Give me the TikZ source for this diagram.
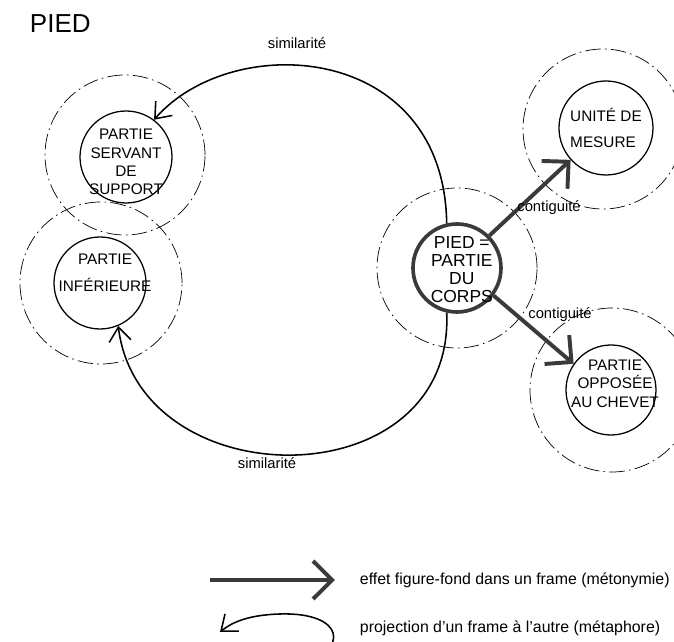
\documentclass[tikz,border=0pt]{standalone}
\usepackage{fontspec}
\setmainfont{Liberation Sans}
\usetikzlibrary{arrows.meta,positioning}
\definecolor{fonce}{HTML}{3A3A3A}
\tikzset{
  notion/.style={circle, draw, line width=0.9pt, inner sep=0pt, minimum size=2.3cm},
  noyau/.style={notion, draw=fonce, line width=2.6pt, minimum size=2.2cm},
  cadre/.style={circle, draw, line width=0.5pt, inner sep=0pt,
    dash pattern=on 11pt off 3pt on 1.2pt off 3pt},
  simil/.style={-{Straight Barb[length=3.5mm, width=5.5mm]}, line width=1.1pt},
  contig/.style={-{Straight Barb[length=4.8mm, width=9.5mm]}, line width=2.8pt, draw=fonce},
  ntxt/.style={font=\fontsize{10.9}{13}\selectfont, align=center, inner sep=0pt},
  lab/.style={font=\fontsize{10.5}{12}\selectfont},
  leg/.style={font=\fontsize{11.3}{13}\selectfont, anchor=west},
}

\begin{document}
\begin{tikzpicture}[x=1cm,y=1cm]
\useasboundingbox (0,0) rectangle (16.85,16.05);
\clip (0,0) rectangle (16.85,16.05);

\node[font=\fontsize{18.5}{22}\selectfont, anchor=west] (titre) at (0.625,15.45) {PIED};

% frames (dashed)
\node[cadre, minimum size=4.0cm]  (fpied)    at (11.425,9.35) {};
\node[cadre, minimum size=4.0cm]  (fservant) at (3.125,12.175) {};
\node[cadre, minimum size=4.05cm] (finf)     at (2.525,8.975) {};
\node[cadre, minimum size=4.0cm]  (funite)   at (15.075,12.825) {};
\node[cadre, minimum size=4.1cm]  (fopp)     at (15.3,6.3) {};

% concepts
\node[noyau, label={[ntxt, font=\fontsize{12.4}{12.8}\selectfont, xshift=1.2mm, yshift=-0.5mm]center:{PIED =\\PARTIE\\DU\\CORPS}}]
  (pied) at (11.425,9.35) {};
\node[notion, label={[ntxt, yshift=-1.25mm]center:{PARTIE\\SERVANT\\DE\\SUPPORT}}]
  (servant) at (3.15,12.125) {};
\node[notion, label={[ntxt, xshift=1.25mm, yshift=2.5mm]center:{PARTIE\\[6pt]INFÉRIEURE}}]
  (inf) at (2.5,8.975) {};
\node[notion, minimum size=2.35cm, label={[ntxt, align=left]center:{UNITÉ DE\\[6pt]MESURE}}]
  (unite) at (15.15,12.85) {};
\node[notion, minimum size=2.25cm, label={[ntxt, xshift=1mm, yshift=1.6mm]center:{PARTIE\\OPPOSÉE\\AU CHEVET}}]
  (opp) at (15.275,6.3) {};

% metaphor: projection between frames
\draw[simil] (pied.103) .. controls (11.1,15.0) and (5.8,15.3) .. (servant.53);
\draw[simil] (pied.257) .. controls (11.375,3.55) and (3.5,3.55) .. (inf.293);
\node[lab] (sim1) at (7.425,14.975) {similarité};
\node[lab] (sim2) at (6.675,4.475) {similarité};

% metonymy: inside one frame
\draw[contig] (pied.45) -- (unite.222);
\draw[contig] (pied.-37) -- (opp.145);
\node[lab] (cont1) at (13.725,10.85) {contiguité};
\node[lab] (cont2) at (14.0,8.175) {contiguité};

% legend
\coordinate (l1a) at (5.25,1.55);
\coordinate (l1b) at (8.375,1.55);
\draw[contig] (l1a) -- (l1b);
\node[leg] (leg1) at (8.875,1.55) {effet figure-fond dans un frame (métonymie)};
\coordinate (l2a) at (7.5,-0.575);
\coordinate (l2b) at (5.5,0.25);
\draw[simil] (l2a) .. controls (8.75,-0.2) and (8.625,0.75) .. (7.0,0.7)
  .. controls (6.125,0.675) and (5.75,0.45) .. (l2b);
\node[leg] (leg2) at (8.875,0.35) {projection d'un frame à l'autre (métaphore)};
\end{tikzpicture}
\end{document}
